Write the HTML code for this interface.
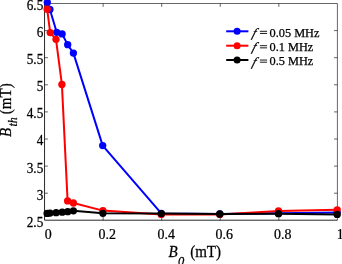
<!DOCTYPE html>
<html><head><meta charset="utf-8">
<style>
html,body{margin:0;padding:0;background:#fff;}
body{width:342px;height:264px;overflow:hidden;}
svg{display:block;will-change:transform;}
text{font-family:"Liberation Serif",serif;fill:#000;stroke:#000;stroke-width:0.25px;}
</style></head><body>
<svg width="342" height="264" viewBox="0 0 342 264">
<rect width="342" height="264" fill="#fff"/>
<!-- axes box -->
<g stroke="#000" fill="none">
<path d="M44.55 220.2V3.5M44.55 220.2H337.4" stroke-width="0.85"/><path d="M44.55 3.5H337.4V220.3" stroke-width="0.6"/>
<path d="M103.12 220.3v-3.4M103.12 3.5v3.4M161.69 220.3v-3.4M161.69 3.5v3.4M220.26 220.3v-3.4M220.26 3.5v3.4M278.83 220.3v-3.4M278.83 3.5v3.4" stroke-width="0.6"/>
<path d="M44.55 30.60h3.4M337.4 30.60h-3.4M44.55 57.70h3.4M337.4 57.70h-3.4M44.55 84.80h3.4M337.4 84.80h-3.4M44.55 111.90h3.4M337.4 111.90h-3.4M44.55 139.00h3.4M337.4 139.00h-3.4M44.55 166.10h3.4M337.4 166.10h-3.4M44.55 193.20h3.4M337.4 193.20h-3.4" stroke-width="0.6"/>
</g>
<!-- data -->
<g fill="#0000ff" stroke="#0000ff"><polyline fill="none" stroke-width="2.0" stroke-linejoin="round" points="47.3,2.5 49.9,9.5 56.7,32.3 62.1,33.9 67.7,44.7 73.4,53.1 102.7,145.6 161.3,213.4 219.8,214.0 278.5,213.3 337.2,212.6"/><g stroke="none"><circle cx="47.3" cy="2.5" r="3.65"/><circle cx="49.9" cy="9.5" r="3.65"/><circle cx="56.7" cy="32.3" r="3.65"/><circle cx="62.1" cy="33.9" r="3.65"/><circle cx="67.7" cy="44.7" r="3.65"/><circle cx="73.4" cy="53.1" r="3.65"/><circle cx="102.7" cy="145.6" r="3.65"/><circle cx="161.3" cy="213.4" r="3.65"/><circle cx="219.8" cy="214.0" r="3.65"/><circle cx="278.5" cy="213.3" r="3.65"/><circle cx="337.2" cy="212.6" r="3.65"/></g></g>
<g fill="#ff0000" stroke="#ff0000"><polyline fill="none" stroke-width="2.0" stroke-linejoin="round" points="47.15,9.2 50.2,32.6 56.0,39.3 61.9,84.4 67.6,200.9 73.4,203.0 102.9,210.6 161.3,214.4 219.8,214.4 278.5,211.0 337.2,209.8"/><g stroke="none"><circle cx="47.15" cy="9.2" r="3.65"/><circle cx="50.2" cy="32.6" r="3.65"/><circle cx="56.0" cy="39.3" r="3.65"/><circle cx="61.9" cy="84.4" r="3.65"/><circle cx="67.6" cy="200.9" r="3.65"/><circle cx="73.4" cy="203.0" r="3.65"/><circle cx="102.9" cy="210.6" r="3.65"/><circle cx="161.3" cy="214.4" r="3.65"/><circle cx="219.8" cy="214.4" r="3.65"/><circle cx="278.5" cy="211.0" r="3.65"/><circle cx="337.2" cy="209.8" r="3.65"/></g></g>
<g fill="#000" stroke="#000"><polyline fill="none" stroke-width="2.0" stroke-linejoin="round" points="47.1,213.4 50.0,213.1 56.1,212.7 62.2,212.2 67.7,211.7 73.4,210.8 102.9,213.3 161.3,213.6 219.8,214.0 278.5,213.7 337.2,214.4"/><g stroke="none"><circle cx="47.1" cy="213.4" r="3.65"/><circle cx="50.0" cy="213.1" r="3.65"/><circle cx="56.1" cy="212.7" r="3.65"/><circle cx="62.2" cy="212.2" r="3.65"/><circle cx="67.7" cy="211.7" r="3.65"/><circle cx="73.4" cy="210.8" r="3.65"/><circle cx="102.9" cy="213.3" r="3.65"/><circle cx="161.3" cy="213.6" r="3.65"/><circle cx="219.8" cy="214.0" r="3.65"/><circle cx="278.5" cy="213.7" r="3.65"/><circle cx="337.2" cy="214.4" r="3.65"/></g></g>
<!-- legend -->
<g stroke-width="2.0">
<line x1="226.2" y1="31.3" x2="248.4" y2="31.3" stroke="#0000ff"/><circle cx="237.1" cy="31.3" r="3.5" fill="#0000ff"/>
<line x1="226.2" y1="45.7" x2="248.4" y2="45.7" stroke="#ff0000"/><circle cx="237.1" cy="45.7" r="3.5" fill="#ff0000"/>
<line x1="226.2" y1="60.0" x2="248.4" y2="60.0" stroke="#000"/><circle cx="237.1" cy="60.0" r="3.5" fill="#000"/>
</g>
<g font-size="12.3" stroke-width="0.2">
<text transform="translate(251.5,36.800000000000004) skewX(-17)" font-style="italic" font-size="12.7">f</text><path d="M259.9 31.30h7.2M259.9 33.45h7.2" stroke="#000" stroke-width="0.9" fill="none"/><text x="269.6" y="36.6">0.05 MHz</text>
<text transform="translate(251.5,51.2) skewX(-17)" font-style="italic" font-size="12.7">f</text><path d="M259.9 45.70h7.2M259.9 47.85h7.2" stroke="#000" stroke-width="0.9" fill="none"/><text x="269.6" y="51.0">0.1 MHz</text>
<text transform="translate(251.5,65.55) skewX(-17)" font-style="italic" font-size="12.7">f</text><path d="M259.9 60.05h7.2M259.9 62.20h7.2" stroke="#000" stroke-width="0.9" fill="none"/><text x="269.6" y="65.35">0.5 MHz</text>
</g>
<!-- y tick labels -->
<g font-size="14.4" text-anchor="end" stroke-width="0.1">
<text transform="translate(43.3,10.1) scale(0.92,1)">6.5</text>
<text transform="translate(43.3,37.2) scale(0.92,1)">6</text>
<text transform="translate(43.3,64.2) scale(0.92,1)">5.5</text>
<text transform="translate(43.3,91.3) scale(0.92,1)">5</text>
<text transform="translate(43.3,118.3) scale(0.92,1)">4.5</text>
<text transform="translate(43.3,145.4) scale(0.92,1)">4</text>
<text transform="translate(43.3,172.5) scale(0.92,1)">3.5</text>
<text transform="translate(43.3,199.5) scale(0.92,1)">3</text>
<text transform="translate(43.3,226.6) scale(0.92,1)">2.5</text>
</g>
<g font-size="14.4" text-anchor="middle" stroke-width="0.1">
<text transform="translate(48.3,238.8) scale(0.97,1)">0</text>
<text transform="translate(107.3,238.8) scale(0.97,1)">0.2</text>
<text transform="translate(166.2,238.8) scale(0.97,1)">0.4</text>
<text transform="translate(224.3,238.8) scale(0.97,1)">0.6</text>
<text transform="translate(282.8,238.8) scale(0.97,1)">0.8</text>
<text transform="translate(340.2,238.8) scale(0.97,1)">1</text>
</g>
<!-- axis labels -->
<g font-size="15.8" stroke-width="0.15">
<text transform="translate(168.5,256.7) scale(0.95,1)" font-style="italic">B</text>
<text transform="translate(178.1,264.8) scale(0.95,1)" font-style="italic" font-size="13.3">0</text>
<text transform="translate(190.2,256.7) scale(0.95,1)">(mT)</text>
</g>
<g font-size="15.8" stroke-width="0.15" transform="translate(11.3,137.1) rotate(-90)">
<text transform="translate(0,0) scale(0.95,1)" font-style="italic">B</text>
<text transform="translate(10.6,5.7) scale(0.95,1)" font-style="italic" font-size="12.6">th</text>
<text transform="translate(22.9,-0.2) scale(0.95,1)">(mT)</text>
</g>
</svg>
</body></html>
